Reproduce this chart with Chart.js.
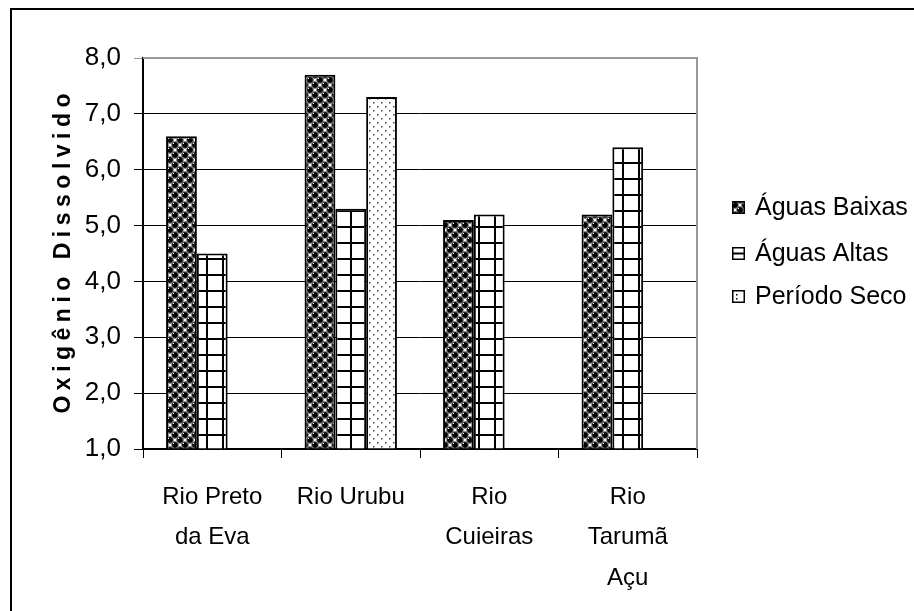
<!DOCTYPE html>
<html>
<head>
<meta charset="utf-8">
<script src="https://cdn.jsdelivr.net/npm/chart.js@4/dist/chart.umd.min.js"></script>
<style>
  html, body { margin: 0; padding: 0; background: #fff; }
  canvas { display: block; }
</style>
</head>
<body>
<canvas id="oxChart" width="914" height="611"></canvas>
<script>
// data
const categories = [['Rio Preto', 'da Eva'], 'Rio Urubu', ['Rio', 'Cuieiras'], ['Rio', 'Tarumã', 'Açu']];
const seriesNames = ['Águas Baixas', 'Águas Altas', 'Período Seco'];
const aguasBaixas = [6.6, 7.7, 5.1, 5.2];
const aguasAltas = [4.5, 5.3, 5.2, 6.4];
const periodoSeco = [null, 7.3, null, null];
const yMin = 1, yMax = 8, yStep = 1;
const yTitle = 'Oxigênio Dissolvido';

const FONT = '"Liberation Sans", Arial, sans-serif';

function makePattern(w, h, draw) {
    const c = document.createElement('canvas');
    c.width = w; c.height = h;
    const g = c.getContext('2d');
    g.fillStyle = '#fff';
    g.fillRect(0, 0, w, h);
    draw(g);
    return g.createPattern(c, 'repeat');
}

// "spheres" fill
const spheres = makePattern(10, 10, function (g) {
    const pts = [[5, 5], [0, 0], [10, 0], [0, 10], [10, 10]];
    pts.forEach(function (p) {
        g.beginPath();
        g.arc(p[0], p[1], 3.4, 0, Math.PI * 2);
        g.fillStyle = '#000';
        g.fill();
        g.strokeStyle = '#888';
        g.lineWidth = 0.9;
        g.stroke();
    });
    g.fillStyle = '#fff';
    g.fillRect(3, 3, 1, 1);
    g.fillRect(8, 8, 1, 1);
});

// square grid fill
const grid = makePattern(16, 16, function (g) {
    g.fillStyle = '#000';
    g.fillRect(14, 0, 2, 16);
    g.fillRect(0, 2, 16, 2);
});

// sparse dots fill
const dots = makePattern(8, 8, function (g) {
    g.fillStyle = '#444';
    g.fillRect(1, 2, 1.5, 1.5);
    g.fillRect(5, 6, 1.5, 1.5);
});

const fills = [spheres, grid, dots];

// little legend keys, drawn like the small swatches in the picture
function drawKey(ctx, i, x, y, s) {
    ctx.fillStyle = '#fff';
    ctx.fillRect(x, y, s, s);
    ctx.fillStyle = '#000';
    if (i === 0) {
        ctx.fillStyle = spheres;
        ctx.fillRect(x, y, s, s);
    } else if (i === 1) {
        ctx.fillRect(x, y + s / 2 - 1, s, 2);
    } else {
        ctx.fillRect(x + 4, y + 4, 1.5, 1.5);
        ctx.fillRect(x + 4, y + s - 5, 1.5, 1.5);
    }
    ctx.strokeStyle = '#000';
    ctx.lineWidth = 1.5;
    ctx.strokeRect(x + 0.75, y + 0.75, s - 1.5, s - 1.5);
}

const framePlugin = {
    id: 'frame',
    beforeDraw(chart) {
        const ctx = chart.ctx;
        ctx.save();
        ctx.fillStyle = '#fff';
        ctx.fillRect(0, 0, chart.width, chart.height);
        ctx.strokeStyle = '#000';
        ctx.lineWidth = 2;
        ctx.strokeRect(11, 9, 1000, 1000);
        ctx.restore();
    },
    afterDraw(chart) {
        const ctx = chart.ctx;
        const a = chart.chartArea;
        ctx.save();
        // plot area border, top and right
        ctx.strokeStyle = '#999';
        ctx.lineWidth = 2;
        ctx.beginPath();
        ctx.moveTo(a.left, a.top);
        ctx.lineTo(a.right, a.top);
        ctx.lineTo(a.right, a.bottom);
        ctx.stroke();

        // y axis title, letter spaced
        ctx.save();
        ctx.translate(64, (a.top + a.bottom) / 2);
        ctx.rotate(-Math.PI / 2);
        ctx.font = 'bold 23px ' + FONT;
        ctx.letterSpacing = '5.5px';
        ctx.textAlign = 'center';
        ctx.textBaseline = 'middle';
        ctx.fillStyle = '#000';
        ctx.fillText(yTitle, 2.75, 0);
        ctx.restore();

        // legend
        ctx.font = '25px ' + FONT;
        ctx.textBaseline = 'middle';
        ctx.textAlign = 'left';
        const ys = [207, 253, 296];
        chart.data.datasets.forEach(function (ds, i) {
            drawKey(ctx, i, 732, ys[i] - 6, 13);
            ctx.fillStyle = '#000';
            ctx.fillText(ds.label, 755, ys[i] + 1);
        });
        ctx.restore();
    }
};

new Chart(document.getElementById('oxChart'), {
    type: 'bar',
    data: {
        labels: categories,
        datasets: [aguasBaixas, aguasAltas, periodoSeco].map(function (vals, i) {
            return {
                label: seriesNames[i],
                data: vals,
                backgroundColor: fills[i],
                borderColor: '#000',
                borderWidth: 2,
                borderSkipped: 'bottom',
                base: yMin
            };
        })
    },
    options: {
        responsive: false,
        animation: false,
        events: [],
        categoryPercentage: 0.667,
        barPercentage: 1,
        layout: { padding: { left: 0, top: 58, right: 217, bottom: 0 } },
        plugins: {
            legend: { display: false },
            tooltip: { enabled: false }
        },
        scales: {
            x: {
                afterFit(scale) { scale.height = 162; },
                grid: {
                    offset: true,
                    drawOnChartArea: false,
                    drawTicks: true,
                    tickLength: 9,
                    color: '#000',
                    lineWidth: 1
                },
                border: { color: '#000', width: 2 },
                ticks: {
                    color: '#000',
                    font: { family: FONT, size: 24, lineHeight: '40.5px' },
                    padding: 19,
                    maxRotation: 0,
                    autoSkip: false
                }
            },
            y: {
                min: yMin,
                max: yMax,
                afterFit(scale) { scale.width = 143; },
                grid: {
                    color: function (c) { return c.tick && c.tick.value === yMax ? '#999' : '#000'; },
                    lineWidth: 1,
                    tickLength: 9
                },
                border: { color: '#000', width: 2 },
                ticks: {
                    stepSize: yStep,
                    color: '#000',
                    padding: 13,
                    font: { family: FONT, size: 26 },
                    callback: function (v) { return v.toFixed(1).replace('.', ','); }
                }
            }
        }
    },
    plugins: [framePlugin]
});
</script>
</body>
</html>
